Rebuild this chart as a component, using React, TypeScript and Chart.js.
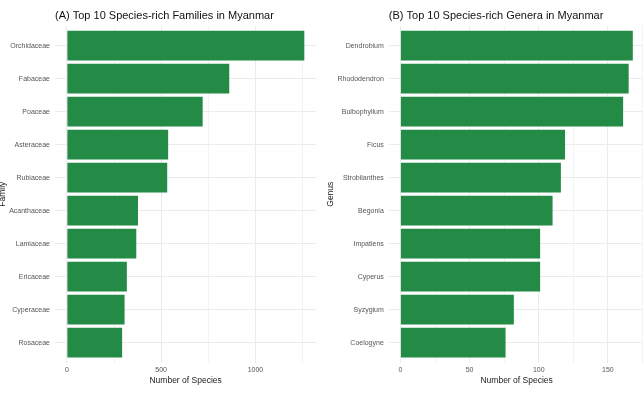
import React, { useEffect, useRef } from 'react';
import { Chart, registerables } from 'chart.js';

Chart.register(...registerables);

// Families (panel A)
const familyNames = [
  'Orchidaceae', 'Fabaceae', 'Poaceae', 'Asteraceae', 'Rubiaceae',
  'Acanthaceae', 'Lamiaceae', 'Ericaceae', 'Cyperaceae', 'Rosaceae',
];
const familyCounts = [1259, 861, 720, 537, 532, 377, 368, 318, 306, 293];

// Genera (panel B)
const genusNames = [
  'Dendrobium', 'Rhododendron', 'Bulbophyllum', 'Ficus', 'Strobilanthes',
  'Begonia', 'Impatiens', 'Cyperus', 'Syzygium', 'Coelogyne',
];
const genusCounts = [168, 165, 161, 119, 116, 110, 101, 101, 82, 76];

// Axis tick settings: gridline step and labelled step
const familyTickStep = 250;
const familyLabelStep = 500;
const genusTickStep = 25;
const genusLabelStep = 50;

const FONT = "'Liberation Sans', Arial, Helvetica, sans-serif";
const BAR_COLOR = '#238B45';
const GRID_COLOR = '#ebebeb';

type PanelProps = {
  names: string[];
  counts: number[];
  title: string;
  yTitle: string;
  tickStep: number;
  labelStep: number;
  width: number;
  left: number;
  yAxisWidth: number;
  padRight: number;
  yTitlePad: number;
};

function Panel(p: PanelProps) {
  const ref = useRef<HTMLCanvasElement | null>(null);

  useEffect(() => {
    if (!ref.current) return;
    const maxVal = Math.max(...p.counts);
    const xMin = -0.05 * maxVal;
    const xMax = 1.05 * maxVal;
    const n = p.names.length;

    const chart = new Chart(ref.current, {
      type: 'bar',
      data: {
        datasets: [
          {
            data: p.counts.map((v, i) => ({ x: v, y: i })),
            backgroundColor: BAR_COLOR,
            borderWidth: 0,
            barPercentage: 0.9,
            categoryPercentage: 1,
          },
        ],
      },
      options: {
        indexAxis: 'y',
        responsive: false,
        animation: false,
        layout: { padding: { left: 0, right: p.padRight, top: 0, bottom: 0 } },
        plugins: {
          legend: { display: false },
          tooltip: { enabled: false },
          title: {
            display: true,
            text: p.title,
            align: 'start',
            fullSize: false,
            color: '#111',
            font: { family: FONT, size: 11, weight: 'normal' },
            padding: { top: 9, bottom: 3.7 },
          },
        },
        scales: {
          x: {
            type: 'linear',
            min: xMin,
            max: xMax,
            afterBuildTicks: (scale: any) => {
              const t: { value: number }[] = [];
              for (let v = 0; v <= xMax; v += p.tickStep) t.push({ value: v });
              scale.ticks = t;
            },
            afterFit: (scale: any) => {
              scale.height = 32.5;
            },
            border: { display: false },
            grid: {
              color: GRID_COLOR,
              lineWidth: (ctx: any) =>
                ctx.tick && ctx.tick.value % p.labelStep === 0 ? 1 : 0.6,
              drawTicks: false,
            },
            ticks: {
              autoSkip: false,
              maxRotation: 0,
              padding: 3.5,
              color: '#555',
              font: { family: FONT, size: 7 },
              callback: (v: any) => (Number(v) % p.labelStep === 0 ? String(v) : ''),
            },
            title: {
              display: true,
              text: 'Number of Species',
              color: '#1a1a1a',
              font: { family: FONT, size: 8.5 },
              padding: { top: 0, bottom: 8.9 },
            },
          },
          y: {
            type: 'linear',
            reverse: true,
            offset: false,
            min: -0.6,
            max: n - 1 + 0.6,
            afterBuildTicks: (scale: any) => {
              scale.ticks = p.names.map((_, i) => ({ value: i }));
            },
            afterFit: (scale: any) => {
              scale.width = p.yAxisWidth;
            },
            border: { display: false },
            grid: { color: GRID_COLOR, lineWidth: 1, drawTicks: false, offset: false },
            ticks: {
              autoSkip: false,
              padding: 5,
              color: '#555',
              font: { family: FONT, size: 7 },
              callback: (v: any) => p.names[Number(v)] ?? '',
            },
            title: {
              display: true,
              text: p.yTitle,
              color: '#1a1a1a',
              font: { family: FONT, size: 8.5 },
              padding: { top: p.yTitlePad, bottom: 0 },
            },
          },
        },
      } as any,
    });

    return () => chart.destroy();
  }, []);

  return (
    <canvas
      ref={ref}
      width={p.width}
      height={395}
      style={{ position: 'absolute', left: p.left, top: 0, width: p.width, height: 395 }}
    />
  );
}

export default function App() {
  return (
    <div
      style={{
        position: 'absolute',
        left: 0,
        top: 0,
        width: 643,
        height: 395,
        overflow: 'hidden',
        background: '#fff',
      }}
    >
      <Panel
        names={familyNames}
        counts={familyCounts}
        title="(A) Top 10 Species-rich Families in Myanmar"
        yTitle="Family"
        tickStep={familyTickStep}
        labelStep={familyLabelStep}
        width={320}
        left={0}
        yAxisWidth={55}
        padRight={3.8}
        yTitlePad={-2.5}
      />
      <Panel
        names={genusNames}
        counts={genusCounts}
        title="(B) Top 10 Species-rich Genera in Myanmar"
        yTitle="Genus"
        tickStep={genusTickStep}
        labelStep={genusLabelStep}
        width={326}
        left={320}
        yAxisWidth={68.8}
        padRight={0.3}
        yTitlePad={5.4}
      />
    </div>
  );
}
